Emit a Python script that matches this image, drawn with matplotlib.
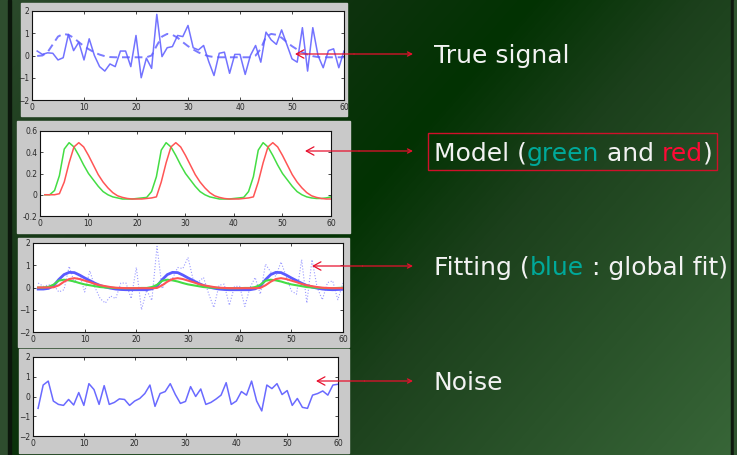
import numpy as np
import matplotlib
matplotlib.use("Agg")
import matplotlib.pyplot as plt
from matplotlib.patches import Rectangle
from matplotlib.colors import LinearSegmentedColormap

W, H = 737, 455

# ---- data -------------------------------------------------------------
samples = list(range(1, 61))

observed = [0.2, 0.05, 0.12, 0.1, -0.2, -0.1, 0.95, 0.22, 0.6, -0.2,
            0.75, 0.0, -0.5, -0.7, -0.38, -0.5, 0.2, 0.2, -0.5, 0.9,
            -1.0, -0.12, -0.58, 1.85, -0.05, 0.35, 0.4, 0.9, 0.85, 1.35,
            0.35, 0.25, 0.45, -0.28, -0.9, 0.1, 0.15, -0.8, 0.05, 0.05,
            -0.85, 0.0, 0.45, -0.3, 1.05, 0.7, 0.5, 1.15, 0.5, -0.15,
            -0.3, 1.25, -0.7, 1.25, 0.0, -0.55, 0.22, 0.3, -0.55, 0.2]

true_signal = [-0.02, 0.0, 0.15, 0.5, 0.85, 0.97, 0.93, 0.8, 0.6, 0.42,
               0.27, 0.14, 0.04, -0.03, -0.07, -0.08, -0.08, -0.08, -0.08, -0.08,
               -0.08, -0.08, 0.0, 0.45, 0.85, 0.97, 0.93, 0.8, 0.6, 0.42,
               0.27, 0.14, 0.04, -0.03, -0.07, -0.08, -0.08, -0.08, -0.08, -0.08,
               -0.08, -0.08, 0.0, 0.3, 0.85, 0.97, 0.93, 0.8, 0.6, 0.42,
               0.27, 0.14, 0.04, -0.03, -0.07, -0.08, -0.08, -0.08, -0.08, -0.08]

model_green = [0.0, 0.0, 0.04, 0.18, 0.43, 0.49, 0.45, 0.37, 0.28, 0.2,
               0.14, 0.08, 0.03, 0.0, -0.02, -0.03, -0.04, -0.04, -0.04, -0.035,
               -0.03, -0.025, 0.03, 0.17, 0.42, 0.49, 0.45, 0.37, 0.28, 0.2,
               0.14, 0.08, 0.03, 0.0, -0.02, -0.03, -0.04, -0.04, -0.04, -0.035,
               -0.03, -0.025, 0.03, 0.17, 0.42, 0.49, 0.45, 0.37, 0.28, 0.2,
               0.14, 0.08, 0.03, 0.0, -0.02, -0.03, -0.035, -0.035, -0.03, -0.02]

model_red = [0.0, 0.0, 0.0, 0.01, 0.12, 0.3, 0.45, 0.49, 0.45, 0.37,
             0.28, 0.19, 0.12, 0.065, 0.02, -0.01, -0.025, -0.035, -0.04, -0.04,
             -0.04, -0.035, -0.03, -0.02, 0.12, 0.3, 0.45, 0.49, 0.45, 0.37,
             0.28, 0.19, 0.12, 0.065, 0.02, -0.01, -0.025, -0.035, -0.04, -0.04,
             -0.04, -0.035, -0.03, -0.02, 0.12, 0.3, 0.45, 0.49, 0.45, 0.37,
             0.28, 0.19, 0.12, 0.065, 0.02, -0.01, -0.025, -0.035, -0.04, -0.04]

fit_green = [0.0, 0.0, 0.03, 0.13, 0.31, 0.35, 0.32, 0.27, 0.2, 0.14,
             0.1, 0.06, 0.02, 0.0, -0.01, -0.02, -0.03, -0.03, -0.03, -0.03,
             -0.02, -0.02, 0.02, 0.12, 0.3, 0.35, 0.32, 0.27, 0.2, 0.14,
             0.1, 0.06, 0.02, 0.0, -0.01, -0.02, -0.03, -0.03, -0.03, -0.03,
             -0.02, -0.02, 0.02, 0.12, 0.3, 0.35, 0.32, 0.27, 0.2, 0.14,
             0.1, 0.06, 0.02, 0.0, -0.01, -0.02, -0.03, -0.03, -0.02, -0.01]

fit_red = [0.0, 0.0, 0.0, 0.01, 0.1, 0.26, 0.38, 0.42, 0.38, 0.31,
           0.24, 0.16, 0.1, 0.06, 0.02, -0.01, -0.02, -0.03, -0.03, -0.03,
           -0.03, -0.03, -0.03, -0.02, 0.1, 0.26, 0.38, 0.42, 0.38, 0.31,
           0.24, 0.16, 0.1, 0.06, 0.02, -0.01, -0.02, -0.03, -0.03, -0.03,
           -0.03, -0.03, -0.03, -0.02, 0.1, 0.26, 0.38, 0.42, 0.38, 0.31,
           0.24, 0.16, 0.1, 0.06, 0.02, -0.01, -0.02, -0.03, -0.03, -0.03]

fit_global = [-0.07, -0.07, -0.04, 0.08, 0.36, 0.58, 0.68, 0.67, 0.56, 0.43,
              0.31, 0.19, 0.09, 0.02, -0.03, -0.07, -0.09, -0.1, -0.1, -0.1,
              -0.1, -0.1, -0.06, 0.06, 0.35, 0.58, 0.68, 0.67, 0.56, 0.43,
              0.31, 0.19, 0.09, 0.02, -0.03, -0.07, -0.09, -0.1, -0.1, -0.1,
              -0.1, -0.1, -0.06, 0.06, 0.35, 0.58, 0.68, 0.67, 0.56, 0.43,
              0.31, 0.19, 0.09, 0.02, -0.03, -0.07, -0.09, -0.1, -0.09, -0.08]

noise = [-0.6, 0.58, 0.78, -0.23, -0.4, -0.45, -0.15, -0.43, 0.2, -0.45,
         0.65, 0.35, -0.4, 0.55, -0.4, -0.3, -0.12, -0.15, -0.45, -0.23,
         -0.1, 0.15, 0.58, -0.5, 0.15, 0.25, 0.65, 0.1, -0.35, -0.25,
         0.5, 0.0, 0.38, -0.4, -0.3, -0.13, 0.07, 0.7, -0.4, -0.23,
         0.25, 0.07, 0.78, -0.23, -0.73, 0.58, 0.4, 0.65, 0.1, 0.3,
         -0.45, -0.1, -0.55, -0.6, 0.07, 0.15, 0.28, 0.07, 0.58, 0.62]

xticks = [0, 10, 20, 30, 40, 50, 60]
yticks_wide = [-2, -1, 0, 1, 2]
yticks_model = [-0.2, 0, 0.2, 0.4, 0.6]
yticklabels_model = ["-0.2", "0", "0.2", "0.4", "0.6"]

labels = ["True signal", "Model", "Fitting", "Noise"]

# ---- figure and slide background --------------------------------------
fig = plt.figure(figsize=(W / 100, H / 100), dpi=100)

bg = fig.add_axes([0, 0, 1, 1], zorder=0)
bg.set_xlim(0, W)
bg.set_ylim(H, 0)
bg.axis("off")
yy, xx = np.mgrid[0:H, 0:W]
grad = (xx + 0.87 * yy) / (W + 0.87 * H)
slide_cmap = LinearSegmentedColormap.from_list(
    "slide", [(0.0, "#2c4a2c"), (0.3, "#0f320f"), (0.47, "#023202"),
              (0.62, "#1c401c"), (1.0, "#386638")])
bg.imshow(grad, cmap=slide_cmap, extent=(0, W, H, 0), aspect="auto",
          interpolation="bilinear")
bg.add_patch(Rectangle((0, 0), 8, H, color="#2e4d2e"))
bg.add_patch(Rectangle((8, 0), 3, H, color="#0b160b"))
bg.add_patch(Rectangle((731, 0), 3, H, color="#0f1a0f"))
bg.add_patch(Rectangle((734, 0), 3, H, color="#2f552f"))

# grey figure windows behind each plot
for (l, t, r, b) in [(21, 3, 347, 116), (17, 121, 350, 233),
                     (18, 238, 349, 347), (19, 349, 349, 453)]:
    bg.add_patch(Rectangle((l, t), r - l, b - t, color="#c9c9c9"))


def panel(l, t, r, b, ylim, yticks, yticklabels=None):
    ax = fig.add_axes([l / W, 1 - b / H, (r - l) / W, (b - t) / H], zorder=2)
    ax.set_xlim(0, 60)
    ax.set_ylim(*ylim)
    ax.set_xticks(xticks)
    ax.set_yticks(yticks)
    if yticklabels is not None:
        ax.set_yticklabels(yticklabels)
    ax.tick_params(direction="in", length=2.5, width=0.6, top=True,
                   right=True, labelsize=5.5, pad=2, colors="#2a2a2a")
    for sp in ax.spines.values():
        sp.set_linewidth(0.8)
        sp.set_color("#111111")
    return ax


BLUE = "#5a5aff"
GREEN = "#44dd44"
RED = "#ff5555"

ax1 = panel(32, 11, 344, 100, (-2, 2), yticks_wide)
ax1.plot(samples, true_signal, color=BLUE, lw=1.4, ls=(0, (4, 2.5)), alpha=0.8)
ax1.plot(samples, observed, color=BLUE, lw=1.1, alpha=0.85)

ax2 = panel(40, 131, 331, 216, (-0.2, 0.6), yticks_model, yticklabels_model)
ax2.plot(samples, model_green, color=GREEN, lw=1.1)
ax2.plot(samples, model_red, color=RED, lw=1.1)

ax3 = panel(33, 243, 343, 332, (-2, 2), yticks_wide)
ax3.plot(samples, observed, color="#9a9aff", lw=0.8, ls=":")
ax3.plot(samples, fit_global, color=BLUE, lw=2.0)
ax3.plot(samples, fit_green, color=GREEN, lw=1.5)
ax3.plot(samples, fit_red, color=RED, lw=1.5)

ax4 = panel(33, 357, 338, 436, (-2, 2), yticks_wide)
ax4.plot(samples, noise, color=BLUE, lw=1.1, alpha=0.9)

# ---- annotation layer --------------------------------------------------
ov = fig.add_axes([0, 0, 1, 1], zorder=5)
ov.set_xlim(0, W)
ov.set_ylim(H, 0)
ov.axis("off")
ov.patch.set_alpha(0)

ARROW = "#e8102e"
for (xl, y) in [(295, 54), (305, 151), (312, 266), (316, 381)]:
    xm = (xl + 413) / 2
    ov.annotate("", xy=(xl, y), xytext=(xm, y),
                arrowprops=dict(arrowstyle="->,head_length=0.55,head_width=0.3",
                                color=ARROW, lw=0.9, shrinkA=0, shrinkB=0))
    ov.annotate("", xy=(413, y), xytext=(xm, y),
                arrowprops=dict(arrowstyle="->,head_length=0.3,head_width=0.15",
                                color=ARROW, lw=0.9, shrinkA=0, shrinkB=0))

renderer = fig.canvas.get_renderer()
FS = 18
WHITE = "#f2f2f2"
TEAL = "#00a99a"
TXTRED = "#ff0a36"


def text_width(s):
    if not s:
        return 0.0
    a = ov.text(0, 0, s + "|", fontsize=FS)
    b = ov.text(0, 0, "|", fontsize=FS)
    w = a.get_window_extent(renderer).width - b.get_window_extent(renderer).width
    a.remove()
    b.remove()
    return w


def colored_text(x0, y, parts):
    prefix = ""
    for s, c in parts:
        ov.text(x0 + text_width(prefix), y, s, color=c, fontsize=FS,
                va="baseline", ha="left")
        prefix += s


X0 = 434
colored_text(X0, 63, [(labels[0], WHITE)])
colored_text(X0, 161, [(labels[1] + " (", WHITE), ("green", TEAL),
                       (" and ", WHITE), ("red", TXTRED), (")", WHITE)])
colored_text(X0, 275, [(labels[2] + " (", WHITE), ("blue", TEAL),
                       (" : global fit)", WHITE)])
colored_text(X0, 390, [(labels[3], WHITE)])

ov.add_patch(Rectangle((428, 133), 289, 37, fill=False, ec="#d0102a", lw=1.0))

fig.savefig("out.png", dpi=100)
